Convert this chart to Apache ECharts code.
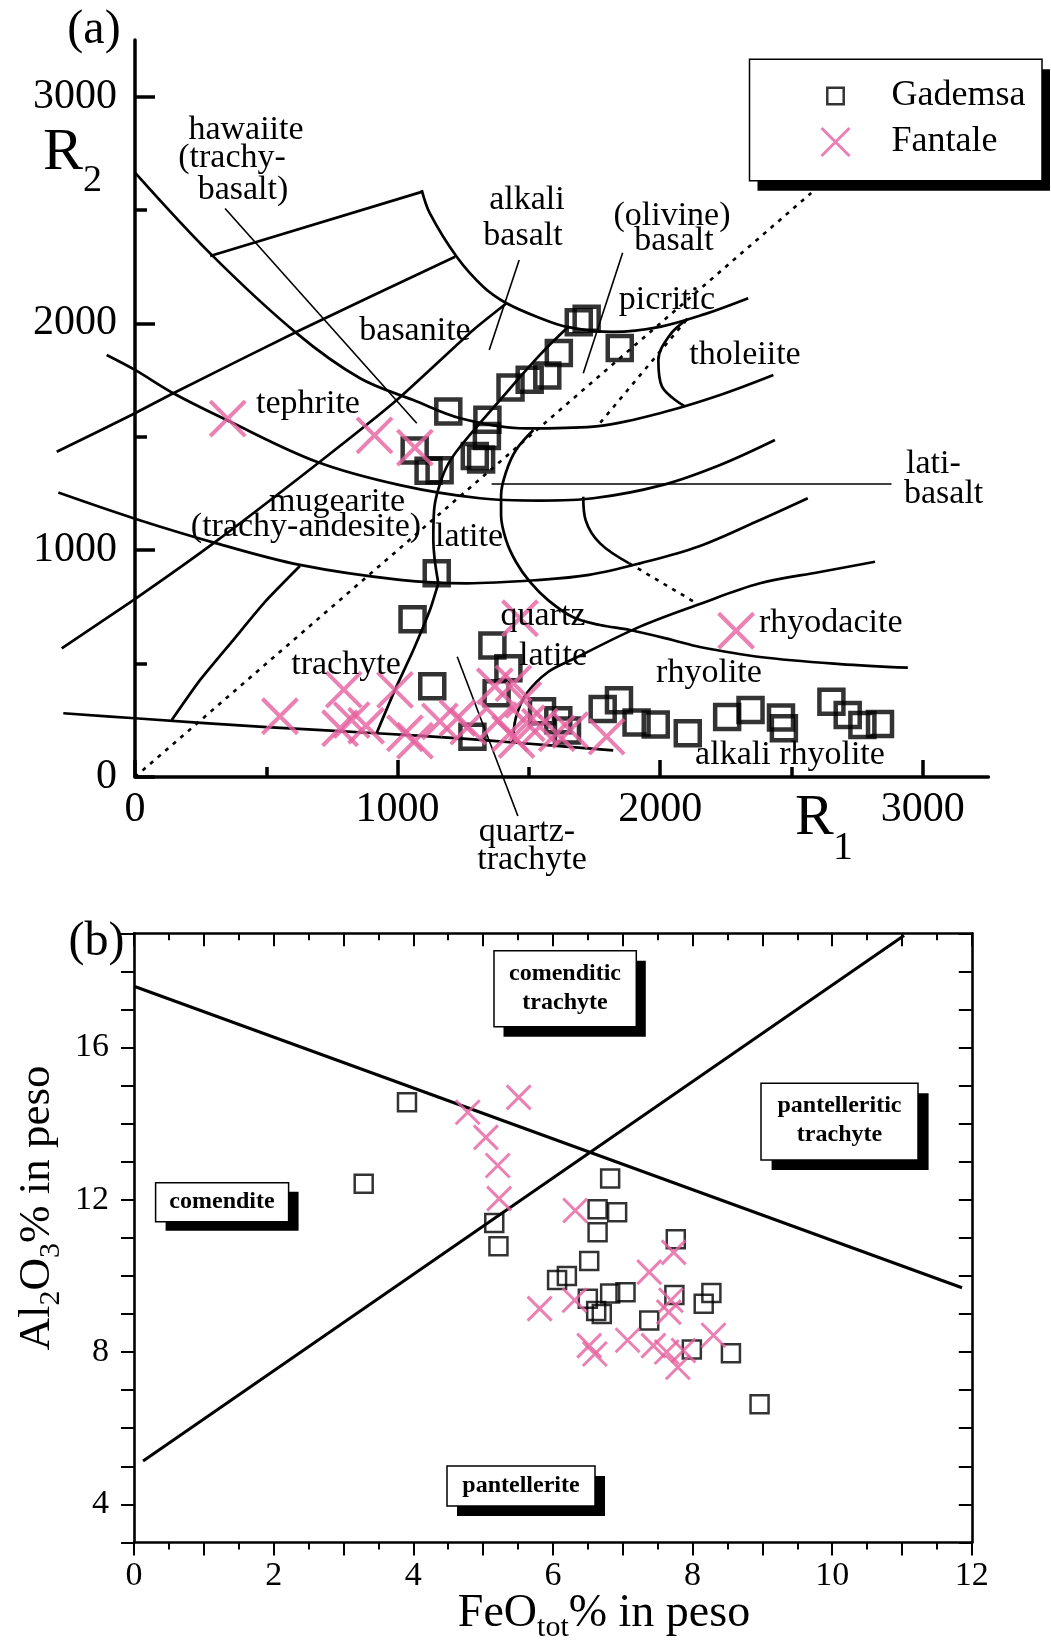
<!DOCTYPE html>
<html><head><meta charset="utf-8">
<script src="https://cdn.jsdelivr.net/npm/echarts@6/dist/echarts.min.js"></script>
<style>html,body{margin:0;padding:0;background:#fff}#c{width:1051px;height:1642px}</style>
</head><body><div id="c"></div>
<script>
// ================= DATA =================
// ---- Panel (a): R1-R2 diagram ----
const gademsaA = [
  [1690,2005],[1720,2020],[1846,1892],[1614,1869],[1570,1770],[1503,1752],[1430,1717],[1193,1612],
  [1342,1575],[1340,1503],[1294,1415],[1318,1400],[1065,1440],[1118,1350],[1160,1352],
  [1149,898],[1057,695],[1361,580],[1422,480],[1132,400],[1377,369],[1285,178],
  [1550,290],[1612,250],[1645,205],[1781,300],[1843,338],[1910,240],[1983,232],[2105,193],
  [2255,264],[2344,295],[2460,262],[2471,215],[2652,332],[2714,273],[2770,229],[2837,234]
];
const fantaleA = [
  [353,1580],[912,1506],[1066,1452],[1466,700],[2289,645],
  [552,268],[795,385],[781,215],[825,251],[880,226],[990,384],[1028,193],[1066,160],
  [1161,245],[1228,260],[1269,222],[1370,400],[1384,251],[1441,413],[1428,193],[1479,340],
  [1492,237],[1453,163],[1542,222],[1606,193],[1657,207],[1796,178]
];
// field boundaries (R1, R2)
const curve1 = [[0,2665],[292,2302],[616,1956],[857,1758],[1060,1662],[1238,1582],[1492,1537],[1745,1545],[1999,1604],[2228,1684],[2431,1772]];
const curve2 = [[1092,2588],[1123,2485],[1225,2294],[1326,2162],[1415,2089],[1542,2024],[1644,1985],[1821,1963],[1999,1985],[2170,2041],[2335,2111]];
const curve3 = [[286,2297],[1092,2580]];
const curve4 = [[1219,2294],[616,1963],[146,1692],[0,1604],[-298,1434]];
const curve5 = [[-108,1861],[0,1795],[146,1692],[349,1574],[692,1390],[1009,1287],[1314,1229],[1542,1219],[1745,1229],[2007,1287],[2228,1376],[2437,1486]];
const curve6 = [[-292,1254],[-6,1141],[311,1030],[628,935],[1009,869],[1263,854],[1542,869],[1729,891],[1923,942],[2146,1016],[2380,1133],[2562,1229]];
const curve7 = [[1440,149],[1450,260],[1492,369],[1573,463],[1669,520],[1923,663],[2151,763],[2380,854],[2608,904],[2818,949]];
const curve8 = [[1517,1530],[1451,1442],[1413,1345],[1394,1243],[1394,1155],[1413,1045],[1451,948],[1504,860],[1573,780],[1669,704],[1771,670],[1885,648],[2050,603],[2151,573],[2380,529],[2685,498],[2943,482]];
const curve9a = [[920,193],[990,384],[1060,560],[1123,736],[1155,854]];
const curve9b = [[1155,854],[1136,1045],[1139,1177],[1154,1265],[1187,1368],[1238,1456],[1390,1662],[1542,1861],[1650,1985]];
const curve10 = [[2104,2020],[2037,1949],[1993,1839],[2007,1721],[2091,1636]];
const curve11 = [[1707,1236],[1716,1133],[1771,1030],[1882,942]];
const curve12 = [[-273,281],[0,259],[502,220],[920,193],[1263,168],[1466,150],[1821,117]];
const curve13 = [[140,251],[248,428],[374,604],[495,772],[628,930]];
const curve14 = [[-279,567],[-6,780],[298,1030],[704,1390],[997,1662],[1288,1971],[1415,2089]];
const dotted1 = [[0,0],[2575,2575]];
const dotted2 = [[2100,2015],[1771,1561]];
const dotted3 = [[1882,942],[2140,765]];
const leader1 = [[343,2507],[1073,1560]];
const leader2 = [[1463,2280],[1349,1883]];
const leader3 = [[1857,2312],[1707,1780]];
const leader4 = [[1358,1292],[2881,1292]];
const leader5 = [[1227,530],[1458,-172]];
const ticksA = [0,1000,2000,3000];

// ---- Panel (b): FeOtot vs Al2O3 ----
const gademsaB = [
  [3.91,14.56],[3.29,12.42],[5.16,11.39],[5.22,10.78],[6.82,12.56],[6.64,11.75],[6.92,11.67],[6.64,11.15],
  [7.76,10.96],[6.52,10.39],[6.20,10.00],[6.06,9.89],[6.82,9.54],[7.04,9.57],[6.50,9.40],[7.74,9.50],
  [8.27,9.55],[8.16,9.27],[6.62,9.08],[6.70,9.00],[7.38,8.83],[7.99,8.07],[8.55,7.97],[8.96,6.63]
];
const fantaleB = [
  [4.78,14.30],[5.51,14.69],[5.04,13.64],[5.21,12.90],[5.23,12.03],[6.32,11.72],[7.73,10.62],[7.38,10.10],
  [5.81,9.14],[6.31,9.36],[7.69,9.36],[7.66,9.05],[6.52,8.17],[6.60,7.95],[7.07,8.31],[7.44,8.17],
  [7.63,8.00],[7.87,8.04],[7.79,7.60],[8.30,8.44]
];
const lineDesc = [[0,17.61],[11.86,9.69]];
const lineAsc = [[0.13,5.14],[11.03,18.94]];
const xLabelsB = [0,2,4,6,8,10,12];
const yLabelsB = [4,8,12,16];

// ================= STYLE =================
const FONT = '"Liberation Serif","Times New Roman",serif';
const PINK = '#E6609F';
const CROSS = 'path://M0,0L10,10M10,0L0,10';

const chart = echarts.init(document.getElementById('c'), null, {renderer:'canvas'});

function curve(data, opt) {
  opt = opt || {};
  return {
    type:'line', xAxisIndex:0, yAxisIndex:0, data:data, symbol:'none', showSymbol:false,
    smooth: opt.smooth === undefined ? 0.35 : opt.smooth, clip:false, silent:true, z:2,
    lineStyle:{color:'#000', width: opt.width || 2.7, type: opt.type || 'solid'}
  };
}

const series = [
  curve(curve1), curve(curve2), curve(curve3,{smooth:false}), curve(curve4,{smooth:0.2}),
  curve(curve5), curve(curve6), curve(curve7), curve(curve8), curve(curve9a,{smooth:0.2}), curve(curve9b),
  curve(curve10), curve(curve11), curve(curve12), curve(curve13,{smooth:0.2}), curve(curve14,{smooth:0.2}),
  curve(dotted1,{smooth:false,type:[4,6],width:2.6}), curve(dotted2,{smooth:false,type:[4,6],width:2.6}),
  curve(dotted3,{smooth:false,type:[4,6],width:2.6}),
  curve(leader1,{smooth:false,width:1.6}), curve(leader2,{smooth:false,width:1.6}), curve(leader3,{smooth:false,width:1.6}),
  curve(leader4,{smooth:false,width:1.6}), curve(leader5,{smooth:false,width:1.6}),
  {name:'Gademsa', type:'scatter', xAxisIndex:0, yAxisIndex:0, data:gademsaA, symbol:'rect', symbolSize:24, z:3,
   itemStyle:{color:'rgba(0,0,0,0)', borderColor:'#000', borderWidth:4.5}},
  {name:'Fantale', type:'scatter', xAxisIndex:0, yAxisIndex:0, data:fantaleA, symbol:CROSS, symbolSize:35, z:4,
   itemStyle:{color:'rgba(0,0,0,0)', borderColor:PINK, borderWidth:4}},
  // panel b
  {type:'line', xAxisIndex:3, yAxisIndex:3, data:lineDesc, symbol:'none', clip:false, silent:true, lineStyle:{color:'#000', width:3}},
  {type:'line', xAxisIndex:3, yAxisIndex:3, data:lineAsc, symbol:'none', clip:false, silent:true, lineStyle:{color:'#000', width:3}},
  {name:'Gademsa', type:'scatter', xAxisIndex:3, yAxisIndex:3, data:gademsaB, symbol:'rect', symbolSize:18, z:3,
   itemStyle:{color:'rgba(0,0,0,0)', borderColor:'#000', borderWidth:2.5}},
  {name:'Fantale', type:'scatter', xAxisIndex:3, yAxisIndex:3, data:fantaleB, symbol:CROSS, symbolSize:24, z:4,
   itemStyle:{color:'rgba(0,0,0,0)', borderColor:PINK, borderWidth:3}}
];

const blackLine = (w) => ({color:'#000', width:w});
const hidden = (g, mn, mx) => ({gridIndex:g, type:'value', min:mn, max:mx, show:false, splitLine:{show:false}});

const xAxis = [
  // 0: data axis for panel (a), wider than the drawn axis so boundary lines can run left of R1 = 0
  hidden(0, -400, 3250),
  // 1: drawn axis line of panel (a)
  {gridIndex:1, type:'value', min:0, max:3250, axisLine:{show:true, onZero:false, lineStyle:blackLine(3.5)},
   axisTick:{show:false}, axisLabel:{show:false}, splitLine:{show:false}},
  // 2: ticks and labels of panel (a)
  {gridIndex:2, type:'value', min:0, max:3000, interval:1000, axisLine:{show:false, onZero:false},
   axisTick:{show:true, inside:true, length:17, lineStyle:blackLine(3.5)},
   minorTick:{show:true, splitNumber:2, length:10, lineStyle:blackLine(3.5)},
   axisLabel:{show:true, fontSize:42, fontFamily:FONT, color:'#000', margin:12,
     formatter:(v)=> ticksA.includes(v) ? String(v) : ''},
   splitLine:{show:false}, minorSplitLine:{show:false}},
  // 3,4: panel (b)
  {gridIndex:3, type:'value', position:'bottom', min:0, max:12, interval:1, axisLine:{show:true, onZero:false, lineStyle:blackLine(2.6)},
   axisTick:{show:true, inside:false, length:13, lineStyle:blackLine(2)},
   minorTick:{show:true, splitNumber:2, length:7, lineStyle:blackLine(2)},
   axisLabel:{show:true, fontSize:34, fontFamily:FONT, color:'#000', margin:17,
     formatter:(v)=> xLabelsB.includes(v) ? String(v) : ''},
   splitLine:{show:false}},
  {gridIndex:3, type:'value', position:'top', min:0, max:12, interval:1, axisLine:{show:true, onZero:false, lineStyle:blackLine(2.6)},
   axisTick:{show:true, inside:true, length:13, lineStyle:blackLine(2)},
   minorTick:{show:true, splitNumber:2, length:7, lineStyle:blackLine(2)},
   axisLabel:{show:false}, splitLine:{show:false}}
];
const yAxis = [
  hidden(0, -400, 3250),
  {gridIndex:1, type:'value', min:0, max:3250, axisLine:{show:true, onZero:false, lineStyle:blackLine(3.5)},
   axisTick:{show:false}, axisLabel:{show:false}, splitLine:{show:false}},
  {gridIndex:2, type:'value', min:0, max:3000, interval:1000, axisLine:{show:false, onZero:false},
   axisTick:{show:true, inside:true, length:20, lineStyle:blackLine(3.5)},
   minorTick:{show:true, splitNumber:2, length:12, lineStyle:blackLine(3.5)},
   axisLabel:{show:true, fontSize:42, fontFamily:FONT, color:'#000', margin:18,
     formatter:(v)=> ticksA.includes(v) ? String(v) : ''},
   splitLine:{show:false}, minorSplitLine:{show:false}},
  {gridIndex:3, type:'value', position:'left', min:3, max:19, interval:1, axisLine:{show:true, onZero:false, lineStyle:blackLine(2.6)},
   axisTick:{show:true, inside:false, length:13, lineStyle:blackLine(2)},
   axisLabel:{show:true, fontSize:34, fontFamily:FONT, color:'#000', margin:25,
     formatter:(v)=> yLabelsB.includes(v) ? String(v) : ''},
   splitLine:{show:false}},
  {gridIndex:3, type:'value', position:'right', min:3, max:19, interval:1, axisLine:{show:true, onZero:false, lineStyle:blackLine(2.6)},
   axisTick:{show:true, inside:true, length:13, lineStyle:blackLine(2)},
   axisLabel:{show:false}, splitLine:{show:false}}
];

function T(text, x, y, size, align, extra) {
  return {type:'text', x:x, y:y, z:10, silent:true,
    style:Object.assign({text:text, fontSize:size, fontFamily:FONT, fill:'#000', align:align||'center', verticalAlign:'middle'}, extra||{})};
}
function boxShadow(x, y, w, h, dx, dy) {
  return [
    {type:'rect', z:5, silent:true, shape:{x:x+dx, y:y+dy, width:w, height:h}, style:{fill:'#000'}},
    {type:'rect', z:6, silent:true, shape:{x:x, y:y, width:w, height:h}, style:{fill:'#fff', stroke:'#000', lineWidth:1.5}}
  ];
}

const L = 34;
const graphics = [].concat(
  boxShadow(749.5, 59.3, 292.5, 121.4, 8, 10),
  boxShadow(155.6, 1182.7, 133, 39, 10, 9),
  boxShadow(494, 950.7, 142.3, 76, 9.5, 10),
  boxShadow(761, 1083.3, 157, 76.7, 10.6, 10),
  boxShadow(447, 1466, 148, 40, 10, 10),
  [
    T('(a)', 94, 30, 48),
    T('(b)', 96.5, 942, 48),
    T('R', 795, 819, 58, 'left'),
    T('1', 843, 848, 40),
    T('R', 43, 153, 60, 'left'),
    T('2', 92.5, 181, 38),
    T('hawaiite', 246, 130, L), T('(trachy-', 232, 158, L), T('basalt)', 243, 190, L),
    T('alkali', 527, 200, L), T('basalt', 523, 236, L),
    T('(olivine)', 672, 216, L), T('basalt', 674, 241, L),
    T('picritic', 667, 300, L),
    T('basanite', 415, 331, L),
    T('tholeiite', 745, 355, L),
    T('tephrite', 308, 404, L),
    T('lati-', 906, 464, L, 'left'), T('basalt', 904, 494, L, 'left'),
    T('mugearite', 337, 502, L), T('(trachy-andesite)', 306, 527, L),
    T('latite', 469, 537, L),
    T('trachyte', 346, 665, L),
    T('quartz', 543, 616, L), T('latite', 553, 656, L),
    T('rhyodacite', 759, 623, L, 'left'),
    T('rhyolite', 709, 673, L),
    T('alkali rhyolite', 790, 755, L),
    T('quartz-', 527, 832, L), T('trachyte', 532, 860, L),
    T('comendite', 222, 1202, 24, 'center', {fontWeight:'bold'}),
    T('comenditic', 565, 974, 24, 'center', {fontWeight:'bold'}),
    T('trachyte', 565, 1003, 24, 'center', {fontWeight:'bold'}),
    T('pantelleritic', 839.5, 1106, 24, 'center', {fontWeight:'bold'}),
    T('trachyte', 839.5, 1135, 24, 'center', {fontWeight:'bold'}),
    T('pantellerite', 521, 1486, 24, 'center', {fontWeight:'bold'}),
    {type:'text', x:604, y:1614, z:10, silent:true,
     style:{text:'{m|FeO}{s|tot}{m|% in peso}', align:'center', verticalAlign:'middle', fill:'#000',
       rich:{m:{fontSize:46, fontFamily:FONT, lineHeight:58, fill:'#000'},
             s:{fontSize:30, fontFamily:FONT, lineHeight:29, verticalAlign:'bottom', fill:'#000'}}}},
    {type:'text', x:37, y:1208, z:10, silent:true, rotation:Math.PI/2,
     style:{text:'{m|Al}{s|2}{m|O}{s|3}{m|% in peso}', align:'center', verticalAlign:'middle', fill:'#000',
       rich:{m:{fontSize:45, fontFamily:FONT, lineHeight:58, fill:'#000'},
             s:{fontSize:30, fontFamily:FONT, lineHeight:30, verticalAlign:'bottom', fill:'#000'}}}}
  ]
);

const option = {
  animation:false,
  backgroundColor:'#fff',
  grid:[
    {left:29.96, top:39.9, width:958.49, height:827.82, containLabel:false},
    {left:135, top:39.9, width:853.45, height:737.1, containLabel:false},
    {left:135, top:96.6, width:787.8, height:680.4, containLabel:false},
    {left:134, top:933.3, width:837.8, height:609.1, containLabel:false}
  ],
  xAxis:xAxis, yAxis:yAxis,
  legend:{
    z:20, orient:'vertical', left:820, top:78, padding:0, itemWidth:28, itemHeight:28, itemGap:10,
    selectedMode:false,
    data:[
      {name:'Gademsa', icon:'path://M0,0M6,6L23,6L23,23L6,23Z M29,29', itemStyle:{color:'rgba(0,0,0,0)', borderColor:'#000', borderWidth:2.5}},
      {name:'Fantale', icon:'path://M1,1L27,27M27,1L1,27', itemStyle:{color:'rgba(0,0,0,0)', borderColor:PINK, borderWidth:3}}
    ],
    formatter:'{n|{name}}',
    textStyle:{fontFamily:FONT, fontSize:36, color:'#000',
      rich:{n:{fontFamily:FONT, fontSize:36, color:'#000', lineHeight:36, padding:[0,0,0,37]}}}
  },
  graphic:{elements:graphics},
  series:series
};
chart.setOption(option);
</script>
</body></html>
